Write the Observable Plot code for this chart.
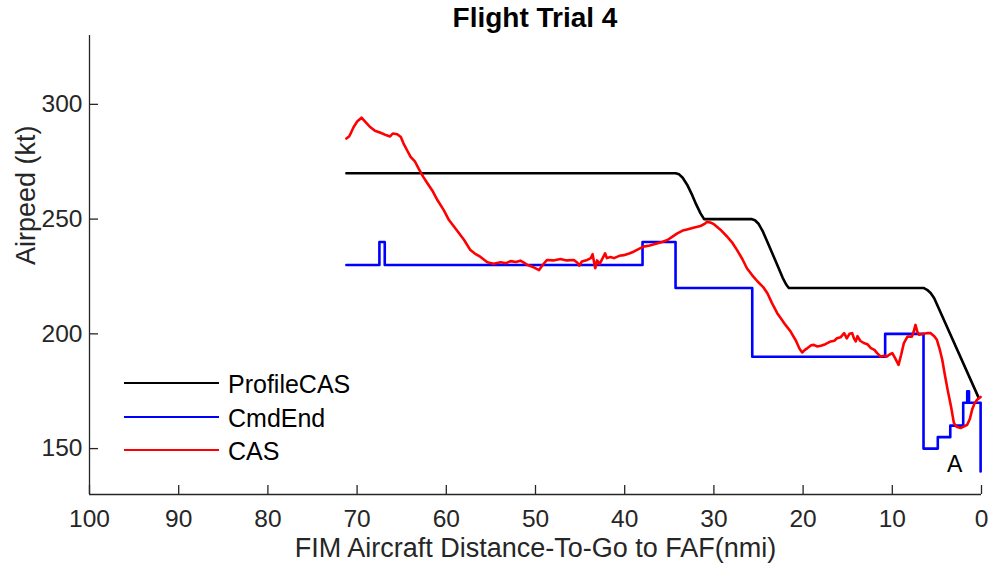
<!DOCTYPE html>
<html>
<head>
<meta charset="utf-8">
<script src="https://cdn.jsdelivr.net/npm/d3@7"></script>
<script src="https://cdn.jsdelivr.net/npm/@observablehq/plot@0.6"></script>
<style>
  body { margin: 0; background: #fff; }
  #wrap { position: relative; width: 990px; height: 571px; font-family: "Liberation Sans", Arial, Helvetica, sans-serif; }
  #title { box-sizing: border-box; height: 34px; padding-top: 2px; line-height: 32px; padding-left: 89px; width: 981px; text-align: center; font-weight: bold; font-size: 28px; color: #000; }
  .leg { position: absolute; left: 124px; width: 95px; height: 2.6px; }
  .legt { position: absolute; left: 228px; font-size: 25px; color: #000; line-height: 30px; }
</style>
</head>
<body>
<div id="wrap">
  <div id="title"></div>
  <div id="chart"></div>
</div>
<script>
const titleText = "Flight Trial 4";
const xLabel = "FIM Aircraft Distance-To-Go to FAF(nmi)";
const yLabel = "Airpeed (kt)";
const xTicks = [100, 90, 80, 70, 60, 50, 40, 30, 20, 10, 0];
const yTicks = [150, 200, 250, 300];
const seriesNames = ["ProfileCAS", "CmdEnd", "CAS"];
const seriesColors = ["#000000", "#0000ff", "#ff0000"];

// ProfileCAS: [distance to go (nmi), speed (kt)]
const profileCAS = [
  [71.2,270],[34.3,270],[33.9,269.5],[33.5,268],[33.0,265],[32.5,261],[32.0,256.5],[31.5,252.5],[31.1,250],
  [25.8,250],[25.4,249.5],[25.0,248],[24.5,244.5],[24.0,240],[23.0,231],[22.3,224.5],[21.9,221.5],[21.6,220],
  [6.5,220],[6.1,219.2],[5.7,217.8],[5.3,215.5],[0.3,172]
];

// CmdEnd: step changes [distance, value held until next]
const cmdEnd = [
  [71.2,230],[67.5,240],[66.9,230],[38.0,240],[34.3,220],[25.7,190],[10.8,200],[6.5,150],
  [4.9,155],[3.5,160],[2.05,170],[1.6,175],[1.4,170],[0.1,140],[0.1,140]
];

// CAS measured
const cas = [
  [71.2,285.1],[70.9,286.0],[70.7,287.5],[70.4,290.0],[70.0,292.5],[69.5,294.2],[69.0,292.0],[68.5,290.0],
  [68.0,288.5],[67.3,287.5],[66.7,286.5],[66.3,286.0],[66.0,287.3],[65.5,287.0],[65.1,285.8],[64.8,283.0],
  [64.4,280.0],[64.0,277.1],[63.5,275.0],[63.1,272.0],[62.6,268.5],[62.1,265.5],[61.5,262.0],[61.0,258.3],
  [60.3,254.0],[59.7,249.6],[58.8,245.0],[58.0,240.9],[57.3,236.5],[56.8,235.0],[56.2,233.6],[55.4,231.2],
  [54.7,230.5],[53.9,231.2],[53.3,230.8],[52.8,231.7],[52.2,231.3],[51.7,231.9],[51.3,231.0],[50.9,230.0],
  [50.2,229.0],[49.6,227.8],[49.2,230.0],[48.7,232.2],[48.0,232.0],[47.2,232.6],[46.5,232.0],[45.7,232.2],
  [45.3,231.0],[45.1,229.7],[44.8,231.5],[44.2,232.2],[43.8,233.0],[43.6,234.7],[43.4,230.5],[43.3,228.6],
  [43.1,232.0],[42.8,230.5],[42.4,233.5],[42.2,235.1],[42.0,233.0],[41.6,233.5],[41.2,233.0],[40.6,234.0],
  [40.1,234.3],[39.5,235.0],[39.0,235.8],[38.4,237.0],[37.9,238.0],[37.2,238.5],[36.4,239.4],[35.8,240.0],
  [35.2,240.9],[34.6,242.5],[34.1,243.8],[33.5,245.0],[33.0,245.5],[32.3,246.2],[31.5,247.0],[31.0,248.0],
  [30.8,248.8],[30.4,248.5],[30.0,247.8],[29.3,245.5],[28.5,242.3],[27.9,239.5],[27.4,236.5],[26.8,232.5],
  [26.3,228.6],[25.7,225.5],[25.1,222.8],[24.5,220.5],[24.0,217.7],[23.5,213.5],[22.9,209.0],[22.5,206.8],
  [22.0,204.0],[21.4,201.0],[20.8,197.0],[20.4,193.5],[20.1,191.9],[19.8,193.0],[19.5,193.8],[19.1,195.0],
  [18.8,195.2],[18.4,194.5],[18.0,194.8],[17.5,195.5],[16.9,196.7],[16.5,197.0],[16.2,198.1],[15.8,198.5],
  [15.4,200.3],[15.1,198.0],[14.8,200.0],[14.5,200.3],[14.3,198.0],[14.1,196.7],[13.9,199.0],[13.6,197.0],
  [13.2,196.0],[12.8,195.5],[12.4,193.8],[12.0,193.0],[11.7,191.6],[11.3,190.1],[10.9,190.5],[10.6,190.1],
  [10.3,191.0],[10.0,191.6],[9.7,189.5],[9.3,186.5],[9.0,191.0],[8.7,196.0],[8.3,198.8],[7.8,198.8],
  [7.6,201.0],[7.4,203.9],[7.2,201.0],[7.0,199.6],[6.5,200.0],[6.0,200.4],[5.7,200.3],[5.3,199.0],
  [5.0,197.4],[4.7,193.5],[4.4,188.7],[4.1,182.0],[3.8,175.7],[3.4,168.0],[3.1,161.2],[2.8,159.5],
  [2.35,159.0],[2.0,159.6],[1.6,160.4],[1.3,163.0],[1.05,167.0],[0.8,169.5],[0.5,171.3],[0.1,172.5]
];

const annotations = [{x: 3.0, y: 143, text: "A"}];

document.getElementById("title").textContent = titleText;

const axisColor = "#262626";
const plot = Plot.plot({
  width: 990,
  height: 537,
  marginTop: 1,
  marginBottom: 77,
  marginLeft: 89,
  marginRight: 9,
  style: {fontFamily: "'Liberation Sans', Arial, Helvetica, sans-serif", fontSize: "24px", color: axisColor, background: "#fff"},
  x: {domain: [100, 0]},
  y: {domain: [130, 330]},
  marks: [
    Plot.ruleX([100], {stroke: axisColor, strokeWidth: 1.3}),
    Plot.ruleY([130], {stroke: axisColor, strokeWidth: 1.3}),
    Plot.axisX({ticks: xTicks, tickSize: -9, tickPadding: 24, tickFormat: d => String(d), label: null, stroke: axisColor, strokeWidth: 1.3, fontSize: 24.5}),
    Plot.axisY({ticks: yTicks, tickSize: -9, tickPadding: 16, tickFormat: d => String(d), label: null, stroke: axisColor, strokeWidth: 1.3, fontSize: 24.5}),
    Plot.text([xLabel], {frameAnchor: "bottom", dy: 62, lineAnchor: "bottom", fontSize: 27, fill: axisColor}),
    Plot.text([yLabel], {frameAnchor: "left", rotate: -90, dx: -55, lineAnchor: "bottom", fontSize: 27, fill: axisColor}),
    Plot.line(profileCAS, {x: d => d[0], y: d => d[1], stroke: seriesColors[0], strokeWidth: 2.6}),
    Plot.line(cmdEnd, {x: d => d[0], y: d => d[1], stroke: seriesColors[1], strokeWidth: 2.6, curve: "step-after"}),
    Plot.line(cas, {x: d => d[0], y: d => d[1], stroke: seriesColors[2], strokeWidth: 2.6, strokeLinejoin: "round"}),
    Plot.text(annotations, {x: "x", y: "y", text: "text", fontSize: 23, fill: "#000"})
  ]
});
document.getElementById("chart").appendChild(plot);

// legend (inside the axes, lower left)
const wrap = document.getElementById("wrap");
const legRows = [383, 417, 450];
seriesNames.forEach((name, i) => {
  const ln = document.createElement("div");
  ln.className = "leg";
  ln.style.top = (legRows[i] - 1.3) + "px";
  ln.style.background = seriesColors[i];
  wrap.appendChild(ln);
  const t = document.createElement("div");
  t.className = "legt";
  t.style.top = (legRows[i] - 14) + "px";
  t.textContent = name;
  wrap.appendChild(t);
});
</script>
</body>
</html>
